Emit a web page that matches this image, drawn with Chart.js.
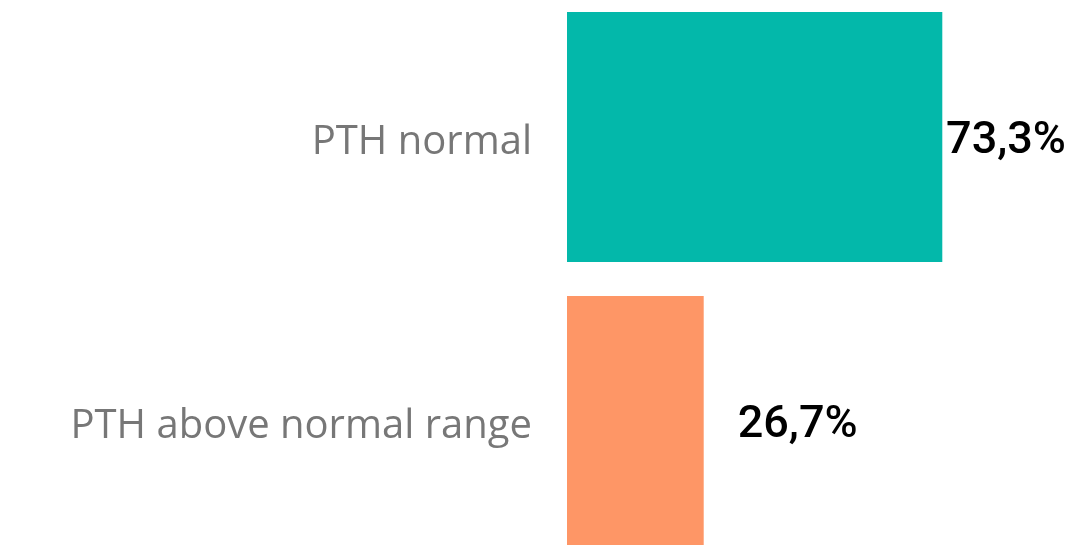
<!DOCTYPE html>
<html>
<head>
<meta charset="utf-8">
<script src="https://cdn.jsdelivr.net/npm/chart.js@4.4.0/dist/chart.umd.min.js"></script>
<style>
  html, body { margin: 0; padding: 0; background: #fff; overflow: hidden; }
  #wrap { position: relative; width: 1086px; height: 568px; margin-top: -5px; }
</style>
</head>
<body>
<div id="wrap"><canvas id="pthChart"></canvas></div>
<script>
// PTH status share
var categories = ["PTH normal", "PTH above normal range"];
var shares = [73.3, 26.7];
var barColors = ["#03b8aa", "#fe9666"];

// value labels after each bar, kept inside the canvas
var valueLabels = {
  id: 'valueLabels',
  afterDatasetsDraw: function (chart) {
    var ctx = chart.ctx;
    var meta = chart.getDatasetMeta(0);
    var right = chart.width - 20;
    ctx.save();
    ctx.font = '500 45px Roboto';
    ctx.fillStyle = '#000';
    ctx.textBaseline = 'middle';
    ctx.textAlign = 'left';
    meta.data.forEach(function (bar, i) {
      var txt = shares[i].toFixed(1).replace('.', ',') + '%';
      var w = ctx.measureText(txt).width;
      var x = Math.min(bar.x + 34, right - w);
      ctx.fillText(txt, x, bar.y + 5);
    });
    ctx.restore();
  }
};

new Chart("pthChart", {
  type: "bar",
  data: {
    labels: categories,
    datasets: [{
      data: shares,
      backgroundColor: barColors,
      barPercentage: 0.88,
      categoryPercentage: 1
    }]
  },
  options: {
    indexAxis: 'y',
    responsive: true,
    maintainAspectRatio: false,
    animation: false,
    layout: { padding: { left: 0, right: 7, top: 0, bottom: 0 } },
    plugins: {
      legend: { display: false },
      tooltip: { enabled: false }
    },
    scales: {
      x: {
        min: 0,
        max: 100,
        display: false
      },
      y: {
        grid: { display: false, drawTicks: false },
        border: { display: false },
        afterFit: function (axis) {
          axis.width = 567;
          axis.paddingTop = 0;
          axis.paddingBottom = 0;
        },
        ticks: {
          padding: 35,
          labelOffset: 6,
          color: '#777777',
          font: { family: '"Open Sans"', size: 40 }
        }
      }
    }
  },
  plugins: [valueLabels]
});
</script>
</body>
</html>
